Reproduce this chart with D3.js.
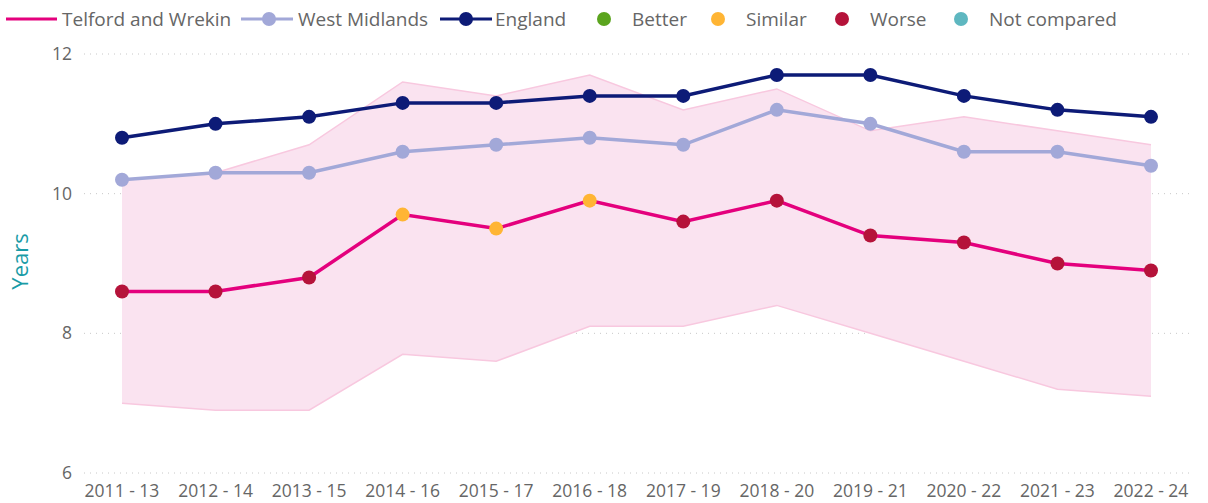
<!DOCTYPE html>
<html>
<head>
<meta charset="utf-8">
<script src="https://cdn.jsdelivr.net/npm/d3@7"></script>
<style>
  body { margin: 0; background: #fff; }
  svg { display: block; font-family: "Segoe UI", "Open Sans", sans-serif; }
</style>
</head>
<body>
<div id="chart"></div>
<script>
var periods = ["2011 - 13", "2012 - 14", "2013 - 15", "2014 - 16", "2015 - 17", "2016 - 18",
               "2017 - 19", "2018 - 20", "2019 - 21", "2020 - 22", "2021 - 23", "2022 - 24"];

var telford = [8.6, 8.6, 8.8, 9.7, 9.5, 9.9, 9.6, 9.9, 9.4, 9.3, 9.0, 8.9];
var westMidlands = [10.2, 10.3, 10.3, 10.6, 10.7, 10.8, 10.7, 11.2, 11.0, 10.6, 10.6, 10.4];
var england = [10.8, 11.0, 11.1, 11.3, 11.3, 11.4, 11.4, 11.7, 11.7, 11.4, 11.2, 11.1];

// confidence band for Telford
var bandUpper = [10.2, 10.3, 10.7, 11.6, 11.4, 11.7, 11.2, 11.5, 10.9, 11.1, 10.9, 10.7];
var bandLower = [7.0, 6.9, 6.9, 7.7, 7.6, 8.1, 8.1, 8.4, 8.0, 7.6, 7.2, 7.1];

// comparison with England
var compared = ["Worse", "Worse", "Worse", "Similar", "Similar", "Similar",
                "Worse", "Worse", "Worse", "Worse", "Worse", "Worse"];

var yTicks = [6, 8, 10, 12];

var compColors = {"Better": "#5ba41e", "Similar": "#ffb534", "Worse": "#b5133a", "Not compared": "#5eb7c0"};

var width = 1208, height = 503;

var svg = d3.select("#chart").append("svg")
    .attr("width", width)
    .attr("height", height);

var x = d3.scalePoint()
    .domain(periods)
    .range([122, 1151]);

var y = d3.scaleLinear()
    .domain([6, 12])
    .range([473, 54]);

// gridlines
svg.append("g")
    .selectAll("line")
    .data(yTicks).enter()
    .append("line")
    .attr("x1", 84)
    .attr("x2", 1190)
    .attr("y1", function(d) { return y(d); })
    .attr("y2", function(d) { return y(d); })
    .style("stroke", "#c8c8c8")
    .style("stroke-width", 1)
    .style("stroke-dasharray", "1,5");

// y axis labels
svg.append("g")
    .selectAll("text")
    .data(yTicks).enter()
    .append("text")
    .attr("x", 72)
    .attr("y", function(d) { return y(d); })
    .attr("dy", "0.35em")
    .attr("text-anchor", "end")
    .style("font-size", "17.5px")
    .style("fill", "#666")
    .text(function(d) { return d; });

svg.append("text")
    .attr("transform", "translate(28," + (y(9) - 2) + ") rotate(-90)")
    .attr("text-anchor", "middle")
    .style("font-size", "22px")
    .style("fill", "#1a9ba6")
    .text("Years");

// x axis labels
svg.append("g")
    .selectAll("text")
    .data(periods).enter()
    .append("text")
    .attr("x", function(d) { return x(d); })
    .attr("y", 491)
    .attr("dy", "0.35em")
    .attr("text-anchor", "middle")
    .style("font-size", "17.5px")
    .style("fill", "#666")
    .text(function(d) { return d; });

// confidence band
var bandIdx = d3.range(periods.length);

svg.append("path")
    .datum(bandIdx)
    .attr("d", d3.area()
        .x(function(i) { return x(periods[i]); })
        .y0(function(i) { return y(bandLower[i]); })
        .y1(function(i) { return y(bandUpper[i]); }))
    .style("fill", "#fae3f0");

svg.append("path")
    .datum(bandIdx)
    .attr("d", d3.line()
        .x(function(i) { return x(periods[i]); })
        .y(function(i) { return y(bandUpper[i]); }))
    .style("fill", "none")
    .style("stroke", "#f8c8df")
    .style("stroke-width", 1.5);

svg.append("path")
    .datum(bandIdx)
    .attr("d", d3.line()
        .x(function(i) { return x(periods[i]); })
        .y(function(i) { return y(bandLower[i]); }))
    .style("fill", "none")
    .style("stroke", "#f8c8df")
    .style("stroke-width", 1.5);

// series lines
var series = [
    {name: "Telford and Wrekin", values: telford, color: "#e4007d"},
    {name: "West Midlands", values: westMidlands, color: "#a2a8d8"},
    {name: "England", values: england, color: "#0d1b77"}
];

var line = d3.line()
    .x(function(d, i) { return x(periods[i]); })
    .y(function(d) { return y(d); });

series.forEach(function(s) {
    svg.append("path")
        .datum(s.values)
        .attr("d", line)
        .style("fill", "none")
        .style("stroke", s.color)
        .style("stroke-width", 3.5);
});

// markers
[series[1], series[2]].forEach(function(s) {
    svg.append("g")
        .selectAll("circle")
        .data(s.values).enter()
        .append("circle")
        .attr("cx", function(d, i) { return x(periods[i]); })
        .attr("cy", function(d) { return y(d); })
        .attr("r", 7)
        .style("fill", s.color);
});

svg.append("g")
    .selectAll("circle")
    .data(telford).enter()
    .append("circle")
    .attr("cx", function(d, i) { return x(periods[i]); })
    .attr("cy", function(d) { return y(d); })
    .attr("r", 7)
    .style("fill", function(d, i) { return compColors[compared[i]]; });

// legend
var legend = svg.append("g").style("font-size", "19px").style("fill", "#666");

legend.append("line")
    .attr("x1", 6).attr("x2", 57).attr("y1", 19).attr("y2", 19)
    .style("stroke", "#e4007d").style("stroke-width", 3);
legend.append("text").attr("x", 62).attr("y", 19).attr("dy", "0.35em").text("Telford and Wrekin");

legend.append("line")
    .attr("x1", 241).attr("x2", 293).attr("y1", 19).attr("y2", 19)
    .style("stroke", "#a2a8d8").style("stroke-width", 3);
legend.append("circle").attr("cx", 269).attr("cy", 19).attr("r", 7).style("fill", "#a2a8d8");
legend.append("text").attr("x", 298).attr("y", 19).attr("dy", "0.35em").text("West Midlands");

legend.append("line")
    .attr("x1", 440).attr("x2", 492).attr("y1", 19).attr("y2", 19)
    .style("stroke", "#0d1b77").style("stroke-width", 3);
legend.append("circle").attr("cx", 466).attr("cy", 19).attr("r", 7).style("fill", "#0d1b77");
legend.append("text").attr("x", 495).attr("y", 19).attr("dy", "0.35em").text("England");

var compKeys = ["Better", "Similar", "Worse", "Not compared"];
var compX = [604, 718, 842, 961];

compKeys.forEach(function(k, i) {
    legend.append("circle").attr("cx", compX[i]).attr("cy", 19).attr("r", 7).style("fill", compColors[k]);
    legend.append("text").attr("x", compX[i] + 28).attr("y", 19).attr("dy", "0.35em").text(k);
});
</script>
</body>
</html>
